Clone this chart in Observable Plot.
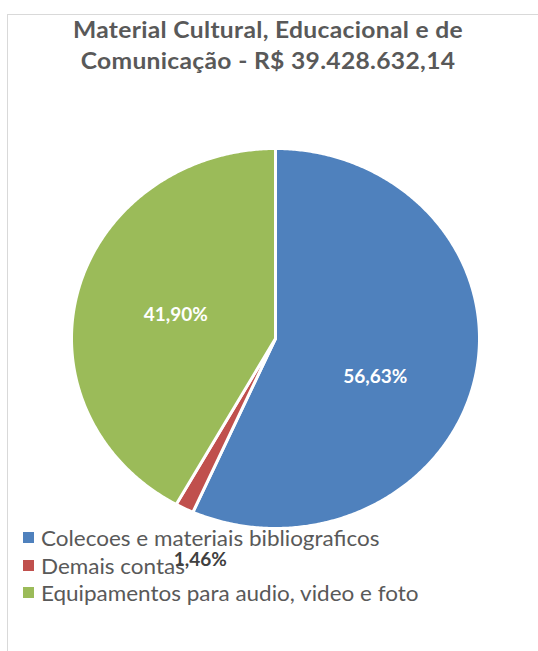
<!DOCTYPE html>
<html>
<head>
<meta charset="utf-8">
<script src="https://cdn.jsdelivr.net/npm/d3@7"></script>
<script src="https://cdn.jsdelivr.net/npm/@observablehq/plot@0.6"></script>
<style>
  body { margin: 0; overflow: hidden; background: #fff; font-family: Lato, "Open Sans", sans-serif; }
  #frame { position: absolute; left: 7px; top: 14px; width: 600px; height: 700px;
           border-top: 1px solid #d9d9d9; border-left: 1px solid #d9d9d9; }
  #title { position: absolute; left: 0; width: 536px; top: 14px; text-align: center;
           font-weight: 700; font-size: 23px; line-height: 31px; color: #595959;
           letter-spacing: 0.3px; transform: scaleX(1.07); transform-origin: 268px 0; }
  #chart { position: absolute; left: 0; top: 130px; z-index: 2; }
  #legend { position: absolute; left: 23px; top: 524px; font-size: 21px; line-height: 27.5px;
            color: #595959; z-index: 1; white-space: nowrap; }
  #legend .txt { display: inline-block; transform: scaleX(1.07); transform-origin: 0 0; }
  .sw { display: inline-block; width: 11px; height: 11px; margin-right: 7px;
        position: relative; top: -3px; }
</style>
</head>
<body>
<div id="frame"></div>
<div id="title"></div>
<div id="chart"></div>
<div id="legend"></div>
<script>
// Categories and their share of the total (percent)
const categories = [
  "Colecoes e materiais bibliograficos",
  "Demais contas",
  "Equipamentos para audio, video e foto"
];
const shares = [56.63, 1.46, 41.90];
const colors = ["#4F81BD", "#C0504D", "#9BBB59"];
const titleLines = ["Material Cultural, Educacional e de", "Comunicação - R$ 39.428.632,14"];

const rows = categories.map((name, i) => ({name, share: shares[i]}));
const fmt = v => v.toFixed(2).replace(".", ",") + "%";

// Title
document.getElementById("title").innerHTML = titleLines.map(t => `<div>${t}</div>`).join("");

// Slice angles, clockwise from 12 o'clock, in data order
const arcs = d3.pie().sort(null).value(d => d.share)(rows);

// Each slice as a closed polygon in unit coordinates (y up)
const slicePoints = arcs.flatMap(a => {
  const pts = [{name: a.data.name, x: 0, y: 0}];
  const n = Math.max(2, Math.ceil((a.endAngle - a.startAngle) / (Math.PI / 360)));
  for (let k = 0; k <= n; ++k) {
    const t = a.startAngle + (a.endAngle - a.startAngle) * k / n;
    pts.push({name: a.data.name, x: Math.sin(t), y: Math.cos(t)});
  }
  return pts;
});

// Label anchor along each slice's middle angle
const labelAt = (a, r) => {
  const m = (a.startAngle + a.endAngle) / 2;
  return {name: a.data.name, share: a.data.share, x: Math.sin(m) * r, y: Math.cos(m) * r};
};
const blueLabel = [labelAt(arcs[0], 0.5)];
const redLabel = [labelAt(arcs[1], 1.2)];
const greenLabel = [labelAt(arcs[2], 0.5)];

const labelStyle = {x: "x", y: "y", text: d => fmt(d.share), fontSize: 19, fontWeight: "bold",
                    fontFamily: "Lato, sans-serif"};

const chart = Plot.plot({
  width: 538,
  height: 440,
  marginLeft: 71,
  marginRight: 59,
  marginTop: 18,
  marginBottom: 42,
  x: {domain: [-1, 1], axis: null},
  y: {domain: [-1, 1], axis: null},
  color: {domain: categories, range: colors},
  style: {background: "transparent", overflow: "visible"},
  marks: [
    Plot.line(slicePoints, {x: "x", y: "y", z: "name", fill: "name", stroke: "white",
                            strokeWidth: 3, curve: "linear-closed"}),
    Plot.text(blueLabel, {...labelStyle, fill: "white", dy: 19}),
    Plot.text(greenLabel, {...labelStyle, fill: "white", dx: -1}),
    Plot.text(redLabel, {...labelStyle, fill: "#404040", dx: 34, dy: 17})
  ]
});
document.getElementById("chart").append(chart);

// Legend
document.getElementById("legend").innerHTML = categories.map((c, i) =>
  `<div><span class="sw" style="background:${colors[i]}"></span><span class="txt">${c}</span></div>`).join("");
</script>
</body>
</html>
